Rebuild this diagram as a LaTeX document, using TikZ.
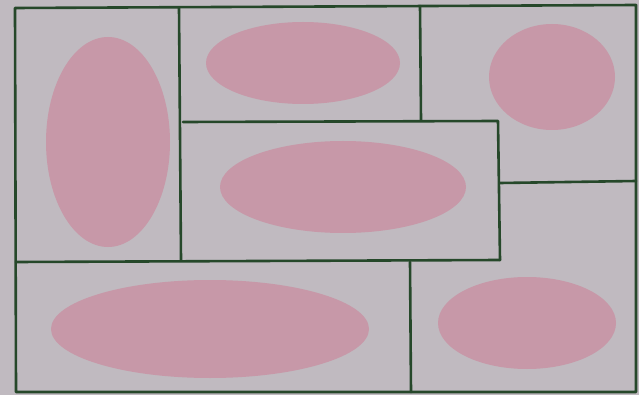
\documentclass[tikz,border=0pt]{standalone}
\definecolor{bg}{RGB}{192,186,192}
\definecolor{blob}{RGB}{199,152,168}
\definecolor{edge}{RGB}{38,72,42}
\begin{document}
\begin{tikzpicture}[x=1pt,y=-1pt,
  wall/.style={draw=edge,line width=2.6pt,line cap=round,line join=round},
  blobfill/.style={fill=blob}]
\useasboundingbox (0,0) rectangle (639,395);
\fill[bg] (0,0) rectangle (639,395);
% ellipses
\fill[blobfill] (108,142) ellipse [x radius=62,y radius=105];
\fill[blobfill] (303,63) ellipse [x radius=97,y radius=41];
\fill[blobfill] (552,77) ellipse [x radius=63,y radius=53];
\fill[blobfill] (343,187) ellipse [x radius=123,y radius=46];
\fill[blobfill] (210,329) ellipse [x radius=159,y radius=49];
\fill[blobfill] (527,323) ellipse [x radius=89,y radius=46];
% walls
\draw[wall] (16,392) -- (15,8) -- (636,5) -- (636,392) -- cycle;
\draw[wall] (179,8) -- (181,260);
\draw[wall] (420,6) -- (421,120);
\draw[wall] (183,122) -- (498,121) -- (500,260);
\draw[wall] (500,183) -- (636,181);
\draw[wall] (16,262) -- (500,260);
\draw[wall] (410,262) -- (411,392);
\end{tikzpicture}
\end{document}
